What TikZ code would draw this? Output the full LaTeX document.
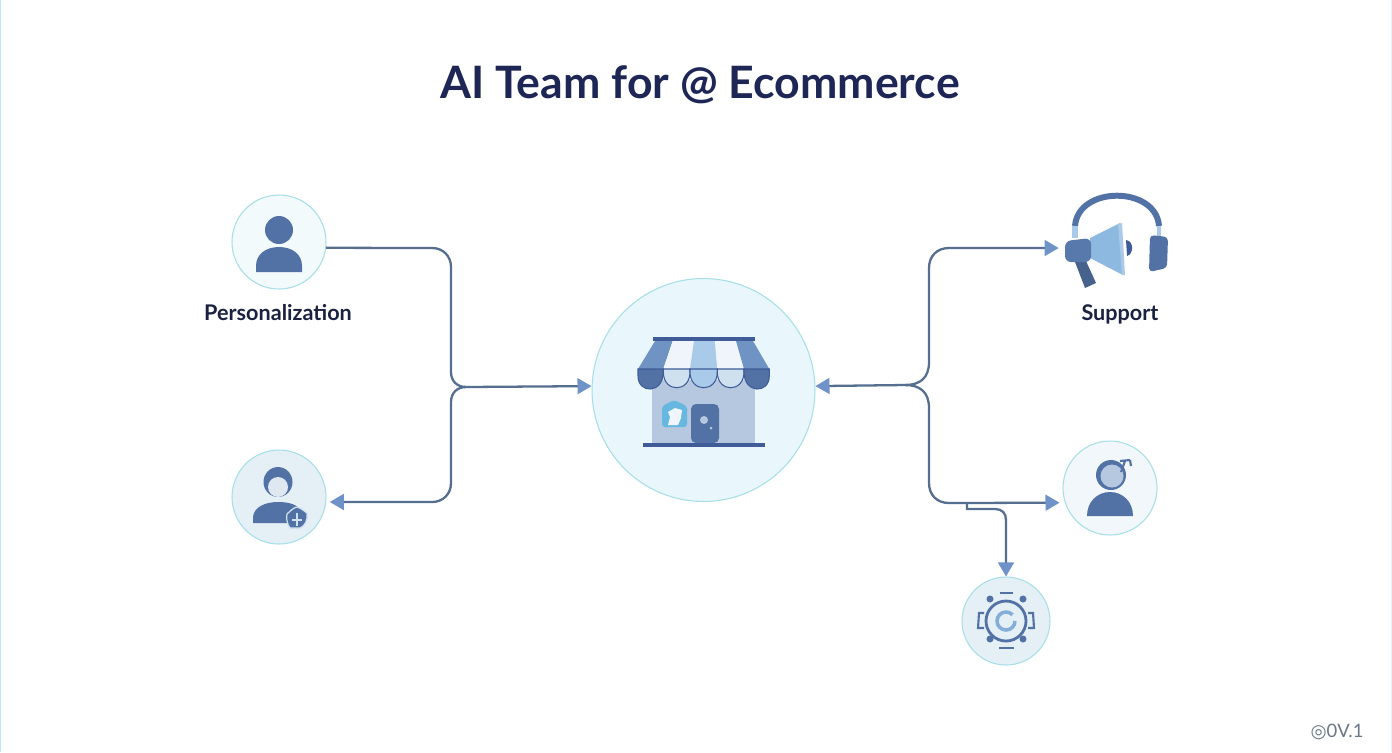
\documentclass[tikz,border=0pt]{standalone}
\usepackage{fontspec}
\setmainfont{Lato}
\newfontfamily\symbfont{DejaVu Sans}
\usetikzlibrary{arrows.meta}
\definecolor{inkblue}{HTML}{1E2656}
\definecolor{labelink}{HTML}{1B2140}
\definecolor{wireblue}{HTML}{566E90}
\definecolor{tipblue}{HTML}{6F93C8}
\definecolor{ringblue}{HTML}{A6DFE8}
\definecolor{iconblue}{HTML}{5272A5}
\definecolor{darkblue}{HTML}{3F5C98}
\definecolor{midblue}{HTML}{6F93C2}
\definecolor{skyblue}{HTML}{A9CBE9}
\definecolor{hornblue}{HTML}{8DB8E0}
\definecolor{signblue}{HTML}{66B8E0}
\definecolor{paleblue}{HTML}{CFE0EF}
\definecolor{snowblue}{HTML}{EFF5FA}
\definecolor{wallblue}{HTML}{B6C8E0}
\definecolor{facegrey}{HTML}{DFE8F1}
\definecolor{hubfill}{HTML}{E9F7FC}
\definecolor{lightfill}{HTML}{F3FAFC}
\definecolor{greyfill}{HTML}{E5EFF6}
\definecolor{softfill}{HTML}{F1F7FA}
\definecolor{taggrey}{HTML}{6A7888}
\tikzset{
  teamcircle/.style={circle,draw=ringblue,line width=0.6pt,inner sep=0pt,minimum size=#1},
  wire/.style={draw=wireblue,line width=1.3pt},
  tipped/.style={wire,-{Triangle[length=8pt,width=9pt,color=tipblue,fill=tipblue]}},
  teamlabel/.style={text=labelink,font=\bfseries\fontsize{12.3}{15}\selectfont,inner sep=0pt,anchor=base}
}
\begin{document}
\begin{tikzpicture}[x=0.02cm,y=-0.02cm]
        \useasboundingbox (0,0) rectangle (1392,752);
        % Page edges
        \fill[white] (0,0) rectangle (1392,752);
        \fill[blue!40!cyan!25] (0,0) rectangle (1.5,752);
        \fill[blue!40!cyan!10] (1390.5,0) rectangle (1392,752);
        % Title and texts
        \node[text=inkblue,font=\bfseries\fontsize{25.4}{30}\selectfont,inner sep=0pt,anchor=base] (title) at (700,98) {AI Team for @ Ecommerce};
        \node[teamlabel] (personlabel) at (278,320) {Personalization};
        \node[teamlabel] (supportlabel) at (1120,320) {Support};
        \node[text=taggrey,font=\fontsize{10.5}{12}\selectfont,inner sep=0pt,anchor=base] (versiontag) at (1337,737) {{\symbfont ◎}0V.1};
        % Circles
        \node[teamcircle=4.46cm,fill=hubfill] (hub) at (703.5,390) {};
        \node[teamcircle=1.88cm,fill=lightfill] (person) at (279,242) {};
        \node[teamcircle=1.88cm,fill=greyfill] (agent) at (279,497) {};
        \node[teamcircle=1.88cm,fill=softfill] (advisor) at (1110,488) {};
        \node[teamcircle=1.76cm,fill=greyfill] (gear) at (1006,621) {};
        \node[inner sep=0pt,minimum width=2.32cm,minimum height=1.9cm] (support) at (1117,248) {};
        % Joints of the connectors
        \coordinate (ljoin) at (466,387);
        \coordinate (rjoin) at (905,385);
        \coordinate (rstep) at (967,503);
        % Connectors left
        \draw[wire] (person.-7.3) -- (432,248) .. controls (443,248) and (451,256) .. (451,267) -- (451,372) .. controls (451,382) and (458,387) .. (ljoin);
        \draw[tipped] (ljoin) -- (hub.178.5);
        \draw[tipped,shorten >=2pt] (ljoin) .. controls (458,387) and (451,392) .. (451,402) -- (451,483) .. controls (451,494) and (443,502) .. (432,502) -- (agent.-6.1);
        % Connectors right
        \draw[tipped] (rjoin) -- (hub.2.5);
        \draw[tipped] (rjoin) .. controls (920,385) and (929,378) .. (929,362) -- (929,268) .. controls (929,256) and (937,248) .. (949,248) -- (support.west);
        \draw[tipped,shorten >=3pt] (rjoin) .. controls (920,385) and (929,392) .. (929,408) -- (929,483) .. controls (929,495) and (937,503) .. (949,503) -- (advisor.198.6);
        \draw[tipped] (rstep) -- (967,509) -- (995,509) .. controls (1002,509) and (1006,513) .. (1006,520) -- (gear.north);
        % Person
        \fill[iconblue] (279,230) circle (14);
        \fill[iconblue] (256,272) -- (256,266) .. controls (256,254) and (266,247) .. (279,247) .. controls (292,247) and (302,254) .. (302,266) -- (302,272) -- cycle;
        % Agent with badge
        \fill[iconblue] (278,482) ellipse (14.5 and 15);
        \fill[facegrey] (278,487) ellipse (10 and 10);
        \fill[iconblue] (253,523) -- (253,517) .. controls (254,507) and (265,502) .. (278,502) .. controls (290,502) and (298,505) .. (301,511) -- (292,523) -- cycle;
        \fill[iconblue,draw=paleblue,line width=0.7pt] (287,514) .. controls (291,510) and (295,507) .. (297,507) .. controls (301,508) and (304,511) .. (307,513) .. controls (308,520) and (305,526) .. (300,528) -- (290,528) .. controls (287,524) and (286,518) .. (287,514) -- cycle;
        \draw[paleblue,line width=0.6pt] (297,513) -- (297,526) (292,520) -- (302,520);
        % Advisor
        \fill[iconblue] (1087,516) .. controls (1087,502) and (1097,492) .. (1110,492) .. controls (1123,492) and (1133,502) .. (1133,516) -- cycle;
        \fill[iconblue] (1111,475) circle (15);
        \fill[wallblue] (1112,476) circle (11.5);
        \draw[iconblue,line width=1.2pt] (1121,472) -- (1125,461) (1120,461) -- (1130,460) (1130,460) -- (1131,466);
        % Gear
        \draw[iconblue,line width=1.6pt] (1006,621) circle (20);
        \draw[hornblue!70!midblue,line width=2pt,dash pattern=on 28pt off 4pt] (1006,621) circle (9);
        \draw[iconblue,line width=0.9pt] (1000,593) -- (1013,593);
        \draw[iconblue,line width=1.5pt] (999,648) -- (1014,648);
        \fill[iconblue] (990,599) circle (3.5);
        \fill[iconblue] (1023,599) circle (3.5);
        \fill[iconblue] (990,639) circle (3.5);
        \fill[iconblue] (1023,639) circle (3.5);
        \draw[iconblue,line width=1.2pt] (984,613) -- (979,613) -- (978,628) -- (984,628);
        \draw[iconblue,line width=1.2pt] (1028,613) -- (1033,613) -- (1034,628) -- (1028,628);
        % Store walls
        \fill[wallblue] (652,380) rectangle (755,443);
        % Store awning
        \fill[midblue] (655,341) -- (672.7,341) -- (663.3,369) -- (638,369) -- cycle;
        \fill[snowblue] (672.7,341) -- (694,341) -- (690,369) -- (663.3,369) -- cycle;
        \fill[skyblue] (694,341) -- (715,341) -- (717.3,369) -- (690,369) -- cycle;
        \fill[snowblue] (715,341) -- (736,341) -- (744,369) -- (717.3,369) -- cycle;
        \fill[midblue] (736,341) -- (753,341) -- (769.3,369) -- (744,369) -- cycle;
        % Store scallops
        \filldraw[fill=iconblue,draw=darkblue,line width=0.6pt] (638,369) -- (638,376) .. controls (638,394) and (663.3,394) .. (663.3,372) -- (663.3,369) -- cycle;
        \filldraw[fill=paleblue,draw=darkblue,line width=0.6pt] (663.3,369) -- (663.3,372) .. controls (663.3,393) and (690,393) .. (690,372) -- (690,369) -- cycle;
        \filldraw[fill=skyblue,draw=darkblue,line width=0.6pt] (690,369) -- (690,372) .. controls (690,393) and (717.3,393) .. (717.3,372) -- (717.3,369) -- cycle;
        \filldraw[fill=paleblue,draw=darkblue,line width=0.6pt] (717.3,369) -- (717.3,372) .. controls (717.3,393) and (744,393) .. (744,372) -- (744,369) -- cycle;
        \filldraw[fill=iconblue,draw=darkblue,line width=0.6pt] (744,369) -- (744,372) .. controls (744,394) and (769.3,394) .. (769.3,376) -- (769.3,369) -- cycle;
        \fill[darkblue] (653,336.5) rectangle (755,341);
        % Store door, sign and floor
        \fill[iconblue,rounded corners=0.1cm] (691,443) -- (691,404) -- (719,404) -- (719,443) -- cycle;
        \fill[wallblue] (704,420) circle (4);
        \fill[wallblue] (711,428) circle (1.5);
        \fill[signblue,rounded corners=0.06cm] (662,406) -- (674,400) -- (687,406) -- (687,427) -- (662,427) -- cycle;
        \fill[snowblue] (668,412) -- (675,408) -- (682,410) -- (681,418) -- (678,425) -- (668,425) -- (670,417) -- cycle;
        \fill[darkblue] (643,443) rectangle (765,446.5);
        % Headset
        \draw[iconblue,line width=3.4pt] (1075,226) .. controls (1078,185.6) and (1156,185.6) .. (1159,226);
        \draw[skyblue,line width=3.2pt] (1075,226) -- (1075,238);
        \draw[skyblue,line width=2.4pt] (1159,226) -- (1159,236);
        \fill[iconblue,rounded corners=0.08cm] (1150,235) -- (1168,237) -- (1167,268) -- (1149,272) -- cycle;
        % Megaphone
        \fill[darkblue] (1126,240) .. controls (1134,241) and (1134,254) .. (1127,256) -- cycle;
        \fill[iconblue!85!black] (1075,262) -- (1086,261) -- (1096,283) -- (1085,288) -- cycle;
        \fill[hornblue] (1090,238) -- (1120,223) -- (1123,275) -- (1090,258) -- cycle;
        \fill[skyblue] (1118,224) -- (1122,223) -- (1125,275) -- (1122,275) -- cycle;
        \fill[iconblue!80!midblue,rounded corners=0.12cm] (1065,241) -- (1091,238) -- (1091,262) -- (1065,262) -- cycle;
\end{tikzpicture}
\end{document}
